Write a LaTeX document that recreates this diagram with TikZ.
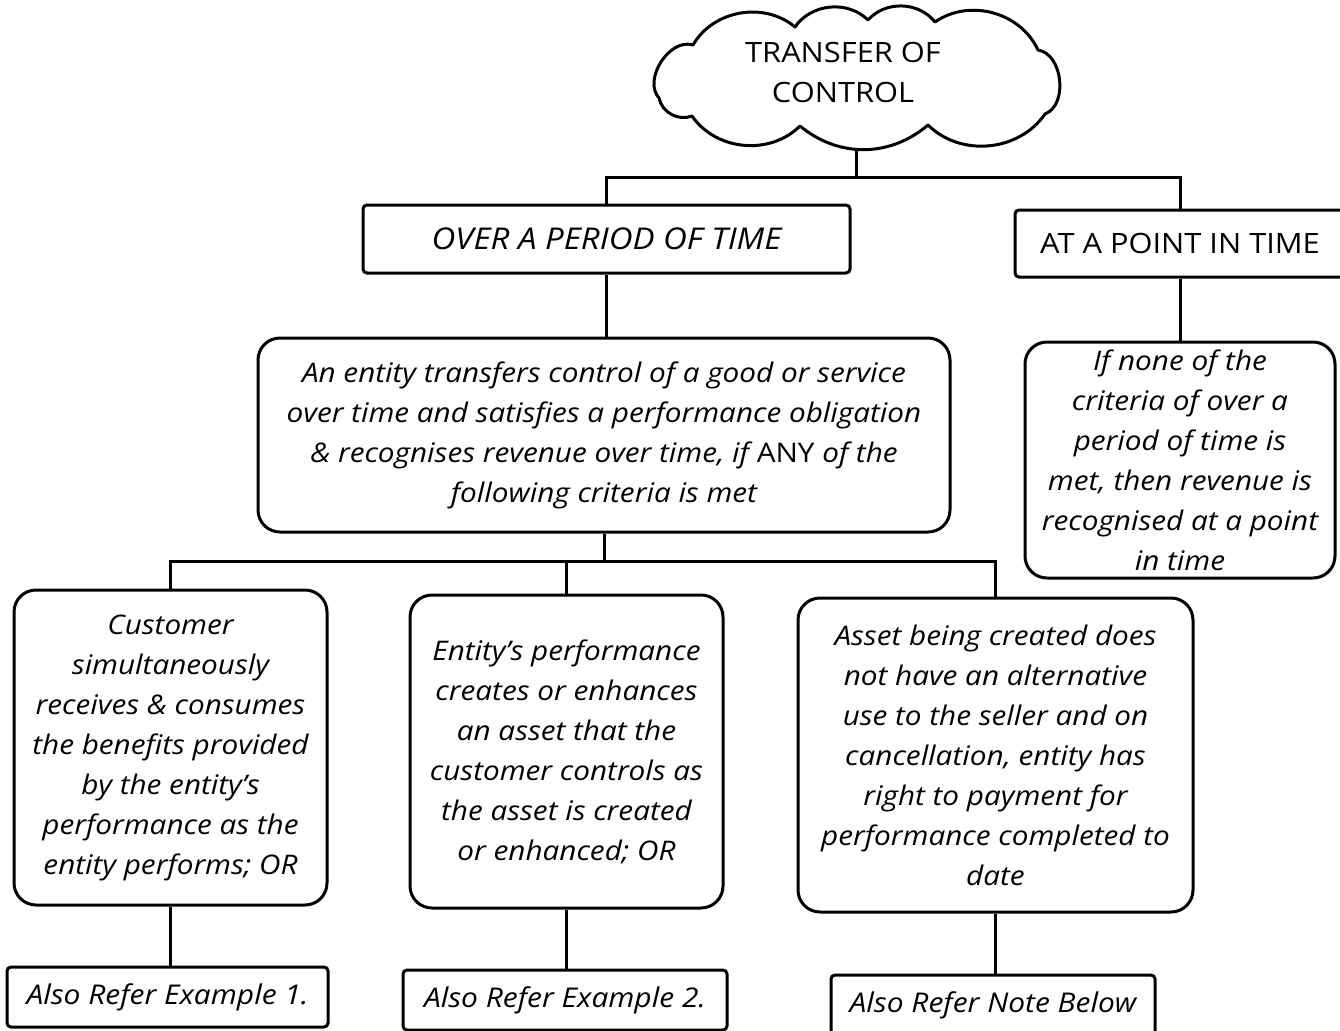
\documentclass[tikz,border=0pt]{standalone}
\usepackage{fontspec}
\setmainfont[FakeStretch=1.1]{Open Sans}
\begin{document}
\begin{tikzpicture}[x=0.5pt,y=-0.5pt,
  every node/.style={font=\fontsize{13.5}{20}\selectfont},
  link/.style={line width=1.5pt,black},
  flatbox/.style={draw,line width=1.5pt,rounded corners=2pt,align=center,inner sep=0pt},
  roundbox/.style={draw,line width=1.5pt,rounded corners=11pt,align=center,inner sep=0pt,font=\fontsize{13.5}{20}\selectfont\itshape},
  puff/.style={bend left=50},
  flatpuff/.style={bend left=40},
  bigpuff/.style={bend left=75},
  titletext/.style={align=center,inner sep=0pt,font=\fontsize{14}{20}\selectfont}
]
\useasboundingbox (0,0) rectangle (1340,1030);
\fill[white] (0,0) rectangle (1340,1030);

% cloud outline, puff by puff
\draw[line width=1.5pt,line join=round]
  (659,98) to[bigpuff] (693,45) to[puff] (795,27) to[puff] (868,20)
  to[puff] (935,22) to[puff] (1038,50) to[bigpuff] (1045,114)
  to[puff] (928,125) to[flatpuff] (800,126) to[puff] (692,116)
  to[puff] cycle;
\node[titletext] (root) at (843,72) {TRANSFER OF\\CONTROL};
\coordinate (rootbase) at (856,148);

% the two ways control can pass
\node[flatbox,minimum width=243.5pt,minimum height=34pt,font=\fontsize{15}{20}\selectfont\itshape] (over) at (606.5,239) {OVER A PERIOD OF TIME};
\node[flatbox,minimum width=165pt,minimum height=33.5pt,font=\fontsize{14}{20}\selectfont] (point) at (1180,243.5) {AT A POINT IN TIME};

% explanations
\node[roundbox,minimum width=346pt,minimum height=97pt] (rule) at (604,435)
  {An entity transfers control of a good or service\\
   over time and satisfies a performance obligation\\
   \& recognises revenue over time, if {\upshape ANY} of the\\
   following criteria is met};
\node[roundbox,minimum width=155pt,minimum height=118pt] (none) at (1180,460)
  {If none of the\\criteria of over a\\period of time is\\met, then revenue is\\recognised at a point\\in time};

% the three criteria
\node[roundbox,minimum width=156.5pt,minimum height=157.5pt] (crit1) at (170.5,747.5)
  {Customer\\simultaneously\\receives \& consumes\\the benefits provided\\by the entity's\\performance as the\\entity performs; OR};
\node[roundbox,minimum width=156.5pt,minimum height=156.5pt] (crit2) at (566.5,751.5)
  {Entity's performance\\creates or enhances\\an asset that the\\customer controls as\\the asset is created\\or enhanced; OR};
\node[roundbox,minimum width=197.5pt,minimum height=157pt] (crit3) at (995.5,755)
  {Asset being created does\\not have an alternative\\use to the seller and on\\cancellation, entity has\\right to payment for\\performance completed to\\date};

% references
\tikzset{refbox/.style={flatbox,minimum height=30pt,font=\fontsize{13.6}{20}\selectfont\itshape}}
\node[refbox,minimum width=160.5pt] (ref1) at (167.5,997) {Also Refer Example 1.};
\node[refbox,minimum width=162pt] (ref2) at (565,1000) {Also Refer Example 2.};
\node[refbox,minimum width=162pt] (ref3) at (993,1005) {Also Refer Note Below};

% connectors
\coordinate (bus1) at (856,177);
\coordinate (bus2) at (604,561);
\draw[link] (rootbase) -- (bus1);
\draw[link] (over.north) |- (bus1) -| (point.north);
\draw[link] (over.south) -- (over.south |- rule.north);
\draw[link] (point.south) -- (point.south |- none.north);
\draw[link] (rule.south) -- (bus2);
\draw[link] (crit1.north) |- (bus2) -| (crit3.north);
\draw[link] (crit2.north) -- (crit2.north |- bus2);
\draw[link] (crit1.south) -- (crit1.south |- ref1.north);
\draw[link] (crit2.south) -- (crit2.south |- ref2.north);
\draw[link] (crit3.south) -- (crit3.south |- ref3.north);
\end{tikzpicture}
\end{document}
